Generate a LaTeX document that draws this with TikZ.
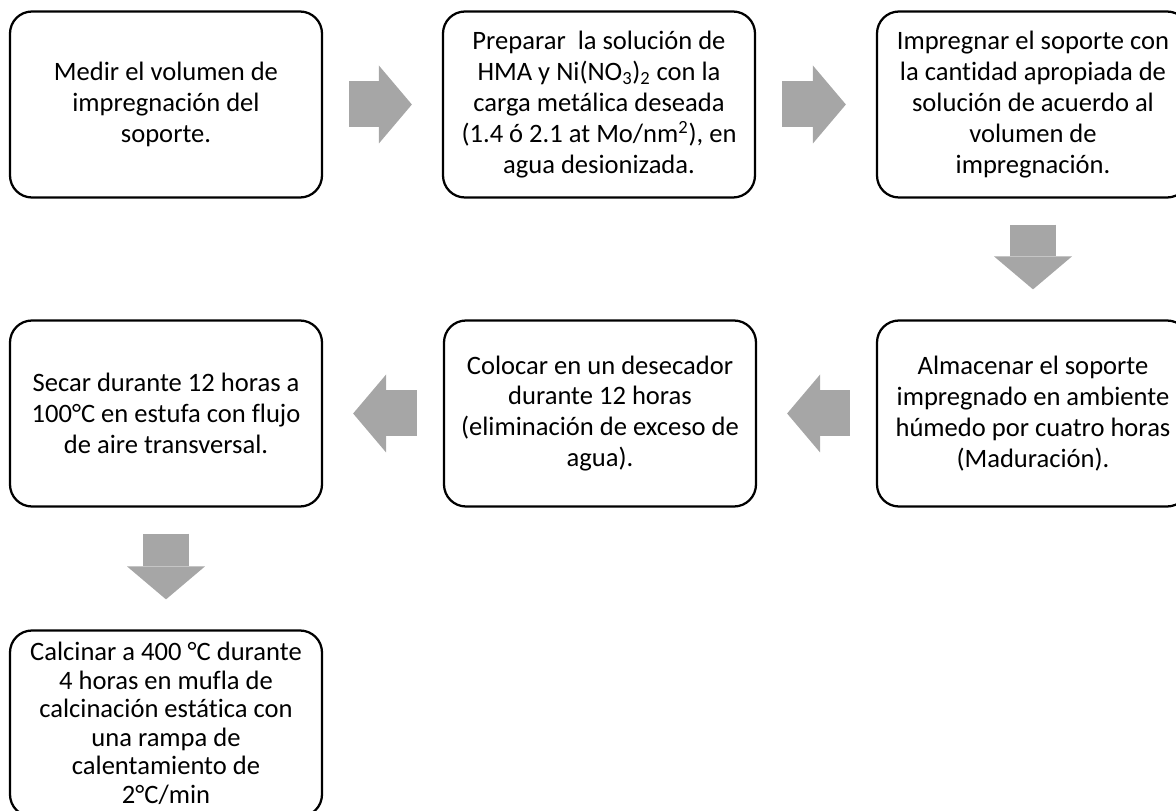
\documentclass[tikz,border=0pt]{standalone}
\usepackage{fontspec}
\setmainfont[Ligatures=NoCommon]{Carlito}
\usetikzlibrary{arrows.meta}
\definecolor{arrowgray}{RGB}{166,166,166}
\begin{document}
\begin{tikzpicture}
	[stage box/.style={draw=black,line width=1.6pt,rounded corners=0.55cm,
		minimum width=7.8cm,minimum height=4.65cm,inner sep=2pt,align=center,
		font=\fontsize{18.9}{22}\selectfont},
	 block arrow/.style={draw=arrowgray,line width=1.15cm,
		-{Triangle[length=0.825cm,width=1.95cm,line width=0pt]},
		shorten <=0.65cm,shorten >=0.75cm}]
	\useasboundingbox (0,0) rectangle (29.4,-20.275);
	% first row
	\node[stage box] (medir) at (4.15,-2.6125) {Medir el volumen de\\impregnación del\\soporte.};
	\node[stage box] (preparar) at (14.975,-2.6125) {Preparar\ \ la solución de\\HMA y Ni(NO\textsubscript{3})\textsubscript{2} con la\\carga metálica deseada\\(1.4 ó 2.1 at Mo/nm\textsuperscript{2}), en\\agua desionizada.};
	\node[stage box] (impregnar) at (25.825,-2.6125) {Impregnar el soporte con\\la cantidad apropiada de\\solución de acuerdo al\\volumen de\\impregnación.};
	% second row
	\node[stage box] (almacenar) at (25.825,-10.3375) {Almacenar el soporte\\impregnado en ambiente\\húmedo por cuatro horas\\(Maduración).};
	\node[stage box] (colocar) at (15.0,-10.3375) {Colocar en un desecador\\durante 12 horas\\(eliminación de exceso de\\agua).};
	\node[stage box] (secar) at (4.15,-10.3375) {Secar durante 12 horas a\\100°C en estufa con flujo\\de aire transversal.};
	% last one
	\node[stage box,font=\fontsize{18.9}{20.3}\selectfont] (calcinar) at (4.15,-18.0875) {Calcinar a 400 °C durante\\4 horas en mufla de\\calcinación estática con\\una rampa de\\calentamiento de\\2°C/min};
	\draw[block arrow] (medir) -- (preparar);
	\draw[block arrow] (preparar) -- (impregnar);
	\draw[block arrow] (impregnar) -- (almacenar);
	\draw[block arrow] (almacenar) -- (colocar);
	\draw[block arrow] (colocar) -- (secar);
	\draw[block arrow] (secar) -- (calcinar);
\end{tikzpicture}
\end{document}
